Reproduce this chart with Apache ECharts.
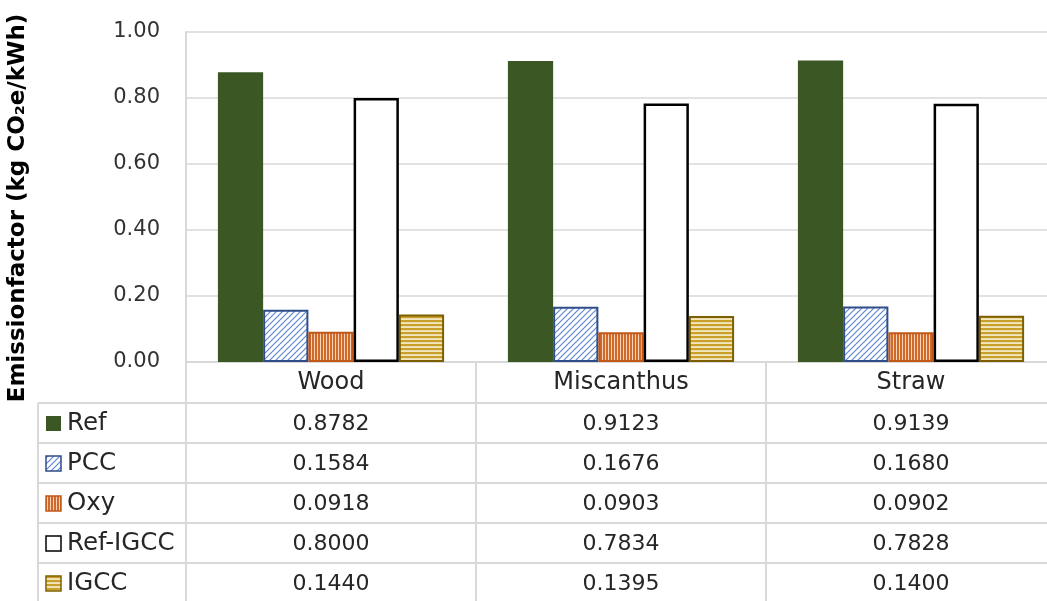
<!DOCTYPE html>
<html>
<head>
<meta charset="utf-8">
<script src="https://cdn.jsdelivr.net/npm/echarts@6/dist/echarts.min.js"></script>
<style>
  html, body { margin: 0; padding: 0; background: #fff; overflow: hidden; }
  /* the plot runs a few pixels past the right edge of the window */
  #chart { width: 1056px; height: 601px; }
</style>
</head>
<body>
<div id="chart"></div>
<script>
// Emission factors per fuel and capture technology (kg CO2e/kWh)
const categories = ['Wood', 'Miscanthus', 'Straw'];
const seriesNames = ['Ref', 'PCC', 'Oxy', 'Ref-IGCC', 'IGCC'];
const refValues = [0.8782, 0.9123, 0.9139];
const pccValues = [0.1584, 0.1676, 0.1680];
const oxyValues = [0.0918, 0.0903, 0.0902];
const refIgccValues = [0.8000, 0.7834, 0.7828];
const igccValues = [0.1440, 0.1395, 0.1400];
const yTicks = [0, 0.2, 0.4, 0.6, 0.8, 1.0];

const seriesValues = [refValues, pccValues, oxyValues, refIgccValues, igccValues];

const FONT = 'DejaVu Sans';
const GRID_LINE = '#d9d9d9';

// Small repeating canvas tiles used as bar fills
function tile(w, h, draw) {
  const c = document.createElement('canvas');
  c.width = w; c.height = h;
  const ctx = c.getContext('2d');
  ctx.fillStyle = '#ffffff';
  ctx.fillRect(0, 0, w, h);
  draw(ctx);
  return { image: c, repeat: 'repeat' };
}

const diagBlue = tile(6, 6, ctx => {
  ctx.strokeStyle = '#5f86d3';
  ctx.lineWidth = 1.2;
  ctx.beginPath();
  ctx.moveTo(-1, 7); ctx.lineTo(7, -1);
  ctx.moveTo(-1, 1); ctx.lineTo(1, -1);
  ctx.moveTo(5, 7); ctx.lineTo(7, 5);
  ctx.stroke();
});
const vertOrange = tile(3, 3, ctx => {
  ctx.fillStyle = '#d06a2a';
  ctx.fillRect(0, 0, 2, 3);
  ctx.fillStyle = '#f6d2b8';
  ctx.fillRect(2, 0, 1, 3);
});
const horzGold = tile(4, 4, ctx => {
  ctx.fillStyle = '#c8a02a';
  ctx.fillRect(0, 0, 4, 2.5);
  ctx.fillStyle = '#f3e7c0';
  ctx.fillRect(0, 2.5, 4, 1.5);
});

const styles = [
  { color: '#3a5724', borderColor: '#3a5724', borderWidth: 0 },
  { color: diagBlue, borderColor: '#2f4d8a', borderWidth: 2 },
  { color: vertOrange, borderColor: '#c0581a', borderWidth: 2 },
  { color: '#ffffff', borderColor: '#000000', borderWidth: 2.5 },
  { color: horzGold, borderColor: '#7f6000', borderWidth: 2 }
];

const chart = echarts.init(document.getElementById('chart'), null, { renderer: 'canvas' });

const GRID = { left: 186, top: 32, right: 0, height: 330 };

chart.setOption({
  animation: false,
  backgroundColor: '#ffffff',
  textStyle: { fontFamily: FONT },
  grid: Object.assign({ containLabel: false }, GRID),
  xAxis: {
    type: 'category',
    data: categories,
    axisLine: { show: true, lineStyle: { color: GRID_LINE, width: 2 } },
    axisTick: { show: true, alignWithLabel: false, length: 240, lineStyle: { color: GRID_LINE, width: 2 } },
    axisLabel: { color: '#262626', fontSize: 24, margin: 9, fontFamily: FONT }
  },
  yAxis: {
    type: 'value',
    min: yTicks[0],
    max: yTicks[yTicks.length - 1],
    interval: yTicks[1] - yTicks[0],
    axisLine: { show: true, lineStyle: { color: GRID_LINE, width: 2 } },
    axisTick: { show: false },
    splitLine: { show: true, lineStyle: { color: GRID_LINE, width: 1.5 } },
    axisLabel: {
      color: '#333333', fontSize: 21, margin: 26, fontFamily: FONT,
      formatter: v => v.toFixed(2)
    }
  },
  series: seriesNames.map((name, i) => ({
    name: name,
    type: 'bar',
    data: seriesValues[i],
    barGap: '0%',
    barCategoryGap: '22%',
    itemStyle: styles[i]
  }))
});

// Data table beneath the plot, aligned to the category bands
function buildTable() {
  const centers = categories.map(c => chart.convertToPixel({ xAxisIndex: 0 }, c));
  const gridRight = chart.getWidth();
  const rowTop = 403, rowH = 40;
  const tableLeft = 38;
  const g = [];

  // y-axis title
  g.push({
    type: 'text', x: 18, y: 208, rotation: Math.PI / 2,
    style: {
      x: 0, y: 0, text: 'Emissionfactor (kg CO\u2082e/kWh)',
      font: 'bold 23px "' + FONT + '"', fill: '#000000',
      textAlign: 'center', textVerticalAlign: 'middle'
    }
  });

  // horizontal rules
  for (let r = 0; r <= seriesNames.length; r++) {
    g.push({
      type: 'line', shape: { x1: tableLeft, y1: rowTop + r * rowH, x2: gridRight, y2: rowTop + r * rowH },
      style: { stroke: GRID_LINE, lineWidth: 2 }
    });
  }
  // left edge of the legend column
  g.push({
    type: 'line', shape: { x1: tableLeft, y1: rowTop, x2: tableLeft, y2: rowTop + rowH * seriesNames.length },
    style: { stroke: GRID_LINE, lineWidth: 2 }
  });

  seriesNames.forEach((name, r) => {
    const cy = rowTop + r * rowH + rowH / 2 + 1;
    const st = styles[r];
    g.push({
      type: 'rect', shape: { x: 46, y: cy - 8, width: 15, height: 15 },
      style: { fill: st.color, stroke: st.borderColor, lineWidth: st.borderWidth ? 1.5 : 0 }
    });
    g.push({
      type: 'text', x: 67, y: cy,
      style: { text: name, font: '24.5px "' + FONT + '"', fill: '#262626', textAlign: 'left', textVerticalAlign: 'middle' }
    });
    seriesValues[r].forEach((v, c) => {
      g.push({
        type: 'text', x: centers[c], y: cy,
        style: { text: v.toFixed(4), font: '22px "' + FONT + '"', fill: '#262626', textAlign: 'center', textVerticalAlign: 'middle' }
      });
    });
  });

  chart.setOption({ graphic: { elements: g } });
}
buildTable();
</script>
</body>
</html>
